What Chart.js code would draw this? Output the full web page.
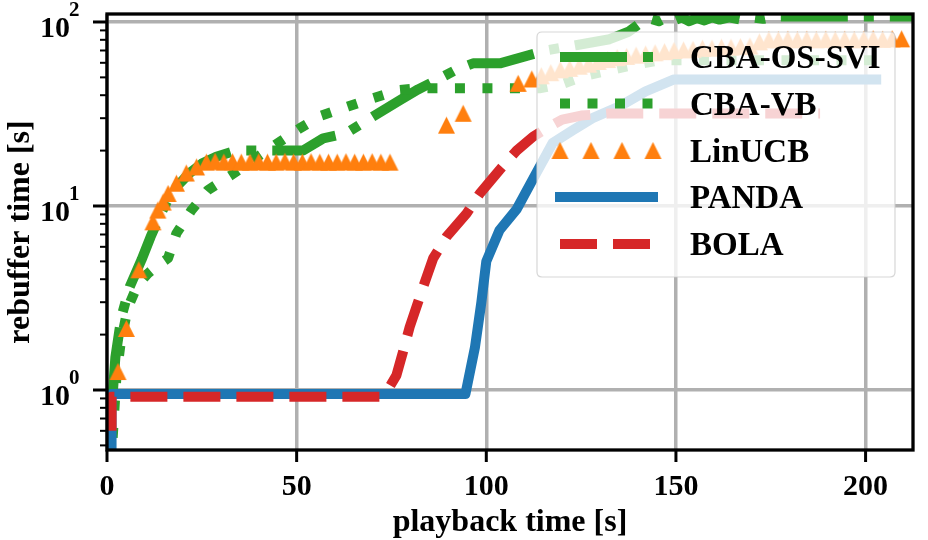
<!DOCTYPE html>
<html><head><meta charset="utf-8">
<script src="https://cdn.jsdelivr.net/npm/chart.js@4.4.1/dist/chart.umd.min.js"></script>
<style>html,body{margin:0;padding:0;background:#fff;}canvas{display:block;}</style>
</head><body>
<canvas id="c" width="928" height="540"></canvas>
<script>
// ---------- data ----------
const xTicks = [0, 50, 100, 150, 200];
const yTicks = [1, 10, 100];
const yMinorTicks = [0.5,0.6,0.7,0.8,0.9,2,3,4,5,6,7,8,9,20,30,40,50,60,70,80,90];
const seriesNames = ['CBA-OS-SVI', 'CBA-VB', 'LinUCB', 'PANDA', 'BOLA'];
const xTitle = 'playback time [s]';
const yTitle = 'rebuffer time [s]';

const cbaOsSviX = [1.5, 2.2, 3.8, 6.0, 9.1, 11.5, 13.9, 16.0, 18.3, 21.8, 25.0, 28.8, 34.0, 51.7, 57.0, 63.1, 70.0, 77.2, 82.0, 87.7, 92.0, 96.5, 103.6, 109.7, 115.8, 124.0, 132.5, 137.5, 141.0, 143.5, 145.5, 147.5, 149.5, 151.5, 153.5, 155.5, 157.5, 159.5, 161.5, 164.0, 167.0, 170.0, 173.0, 176.0, 212.5];
const cbaOsSviY = [0.95, 1.5, 2.5, 3.64, 5.1, 6.8, 8.8, 10.8, 12.7, 15.1, 17.0, 18.5, 20.0, 20.0, 23.3, 24.9, 30.5, 37.6, 43.0, 49.3, 55.0, 59.6, 59.6, 64.6, 70.0, 75.0, 80.6, 88.5, 100, 104, 101, 106, 102, 106, 101, 105, 102, 106, 103, 106, 103, 106, 104, 107, 107];

const cbaVbX = [1.5, 2.5, 3.6, 5.5, 8.0, 10.8, 13.0, 16.1, 18.3, 22.3, 26.6, 32.5, 38.0, 44.2, 50.8, 56.5, 63.5, 70.1, 77.2, 82.0, 114.0, 120.0, 126.0, 133.0, 140.0, 146.0, 206.0];
const cbaVbY = [0.55, 1.2, 1.8, 2.8, 3.7, 4.3, 4.7, 5.2, 7.1, 9.5, 12.2, 14.6, 17.5, 21.4, 26.4, 31.0, 34.7, 38.5, 42.7, 43.6, 43.6, 46.0, 51.0, 55.0, 59.0, 62.0, 62.0];

const linUcbX = [2.9, 5.1, 8.4, 12.1, 13.4, 14.8, 16.1, 18.3, 20.9, 23.6, 26.2, 28.5, 30.8, 33.1, 35.4, 37.7, 40.0, 42.3, 44.6, 46.9, 49.2, 51.5, 53.8, 56.1, 58.4, 60.7, 63.0, 65.3, 67.6, 69.9, 72.2, 74.6,
  89.5, 93.9, 108.4, 112.0, 114.5, 117.0, 119.5, 122.0, 124.5, 127.0, 129.5, 132.0, 134.5, 137.0, 139.5, 142.0, 144.5, 147.0, 149.5, 152.0, 154.5, 157.0, 159.5, 162.0, 164.5, 167.0, 169.5, 172.0, 174.5, 177.0, 179.5, 182.0, 184.5, 187.0, 189.5, 192.0, 194.5, 197.0, 199.5, 202.0, 204.5, 207.0, 209.5];
const linUcbY = [1.26, 2.16, 4.5, 8.2, 9.5, 10.5, 11.7, 13.3, 15.1, 16.3, 17.3, 17.5, 17.3, 17.4, 17.3, 17.3, 17.4, 17.3, 17.3, 17.5, 17.3, 17.3, 17.4, 17.3, 17.3, 17.3, 17.4, 17.3, 17.3, 17.4, 17.3, 17.3,
  27.5, 31.9, 46.4, 49.0, 51.0, 53.0, 55.0, 56.0, 57.5, 59.0, 61.0, 62.5, 64.0, 65.0, 66.0, 67.0, 68.0, 69.0, 70.0, 70.5, 71.0, 72.0, 72.0, 73.0, 73.0, 73.5, 74.0, 78.0, 80.0, 80.0, 80.5, 80.0, 80.5, 80.0, 80.5, 80.0, 80.5, 80.0, 80.5, 81.0, 80.5, 81.0, 81.0];

const pandaX = [1.2, 1.2, 94.5, 97.0, 98.7, 100.0, 103.5, 108.0, 112.3, 117.5, 122.9, 128.0, 135.0, 142.0, 149.5, 202.8];
const pandaY = [0.47, 0.95, 0.95, 1.7, 3.0, 5.0, 7.4, 9.6, 14.0, 22.0, 25.9, 30.0, 34.7, 42.0, 48.7, 48.7];

const bolaX = [1.2, 1.2, 71.9, 74.0, 76.3, 78.0, 79.8, 83.3, 86.0, 89.5, 94.8, 98.3, 103.5, 108.0, 112.3, 116.0, 120.0, 125.0, 132.0, 188.0];
const bolaY = [0.6, 0.92, 0.92, 1.0, 1.2, 1.6, 2.2, 3.6, 5.2, 6.8, 9.1, 11.7, 15.7, 20.0, 23.8, 26.5, 29.5, 31.0, 31.8, 31.8];

// ---------- styles ----------
const C_BLUE = '#1f77b4', C_ORANGE = '#ff7f0e', C_GREEN = '#2ca02c', C_RED = '#d62728';
const SERIF = '"Liberation Serif", "Times New Roman", serif';
const LW = 10;
const DASH_DASHDOT = [67, 16, 10, 16];
const DASH_DOT = [10, 17.5];
const DASH_DASH = [37, 16];

function makeTri(size, color) {
  const c = document.createElement('canvas');
  c.width = size + 2; c.height = size + 2;
  const g = c.getContext('2d');
  g.fillStyle = color;
  g.beginPath();
  g.moveTo(1 + size / 2, 1);
  g.lineTo(1, 1 + size);
  g.lineTo(1 + size, 1 + size);
  g.closePath();
  g.fill();
  return c;
}
const triImg = makeTri(17, C_ORANGE);

const pts = (xs, ys) => xs.map((x, i) => ({ x: x, y: ys[i] }));

const lineDs = (label, xs, ys, color, dash, cap) => ({
  label, data: pts(xs, ys), borderColor: color, backgroundColor: color,
  borderWidth: LW, borderDash: dash, borderCapStyle: cap, borderJoinStyle: 'round',
  pointRadius: 0, pointHoverRadius: 0, tension: 0, fill: false, clip: 0
});

const datasets = [
  lineDs(seriesNames[4], bolaX, bolaY, C_RED, DASH_DASH, 'butt'),
  lineDs(seriesNames[3], pandaX, pandaY, C_BLUE, [], 'square'),
  { label: seriesNames[2], data: pts(linUcbX, linUcbY), showLine: false,
    pointStyle: triImg, pointRadius: 9, pointHoverRadius: 9,
    borderColor: C_ORANGE, backgroundColor: C_ORANGE, clip: 0 },
  lineDs(seriesNames[1], cbaVbX, cbaVbY, C_GREEN, DASH_DOT, 'butt'),
  lineDs(seriesNames[0], cbaOsSviX, cbaOsSviY, C_GREEN, DASH_DASHDOT, 'butt'),
];

// ---------- decoration plugin ----------
const deco = {
  id: 'deco',
  afterDatasetsDraw(chart) {
    const ctx = chart.ctx, a = chart.chartArea, xs = chart.scales.x, ys = chart.scales.y;
    const ln = (x1, y1, x2, y2) => { ctx.beginPath(); ctx.moveTo(x1, y1); ctx.lineTo(x2, y2); ctx.stroke(); };
    ctx.save();
    ctx.setLineDash([]);
    // frame
    ctx.strokeStyle = '#000'; ctx.lineWidth = 3.3; ctx.lineCap = 'butt';
    ctx.strokeRect(a.left, a.top, a.right - a.left, a.bottom - a.top);
    // ticks
    ctx.lineWidth = 3;
    xTicks.forEach(v => { const p = xs.getPixelForValue(v); ln(p, a.bottom, p, a.bottom + 12); });
    yTicks.forEach(v => { const p = ys.getPixelForValue(v); ln(a.left - 14, p, a.left, p); });
    ctx.lineWidth = 2;
    yMinorTicks.forEach(v => { const p = ys.getPixelForValue(v); ln(a.left - 7, p, a.left, p); });
    // tick labels
    ctx.fillStyle = '#000';
    ctx.font = 'bold 30px ' + SERIF;
    ctx.textAlign = 'center'; ctx.textBaseline = 'alphabetic';
    xTicks.forEach(v => ctx.fillText(String(v), xs.getPixelForValue(v), a.bottom + 45));
    yTicks.forEach(v => {
      const p = ys.getPixelForValue(v);
      const e = Math.round(Math.log10(v));
      ctx.font = 'bold 30px ' + SERIF; ctx.textAlign = 'right';
      ctx.fillText('10', 70, p + 15);
      ctx.font = 'bold 21px ' + SERIF; ctx.textAlign = 'left';
      ctx.fillText(String(e), 69, p - 6);
    });
    // axis titles
    ctx.font = 'bold 32px ' + SERIF; ctx.textAlign = 'center';
    ctx.fillText(xTitle, (a.left + a.right) / 2, 531);
    ctx.save();
    ctx.translate(29, (a.top + a.bottom) / 2);
    ctx.rotate(-Math.PI / 2);
    ctx.fillText(yTitle, 0, 0);
    ctx.restore();
    // legend
    const L = 537, T = 32, R = 895, B = 277, rad = 5;
    ctx.beginPath();
    ctx.moveTo(L + rad, T); ctx.lineTo(R - rad, T); ctx.quadraticCurveTo(R, T, R, T + rad);
    ctx.lineTo(R, B - rad); ctx.quadraticCurveTo(R, B, R - rad, B);
    ctx.lineTo(L + rad, B); ctx.quadraticCurveTo(L, B, L, B - rad);
    ctx.lineTo(L, T + rad); ctx.quadraticCurveTo(L, T, L + rad, T);
    ctx.closePath();
    ctx.fillStyle = 'rgba(255,255,255,0.8)'; ctx.fill();
    ctx.strokeStyle = 'rgba(204,204,204,0.8)'; ctx.lineWidth = 1.2; ctx.stroke();
    const rows = [57, 103.5, 150.5, 197, 244];
    const hx0 = 560, hx1 = 653;
    const styles = [
      { c: C_GREEN, d: DASH_DASHDOT, cap: 'butt' },
      { c: C_GREEN, d: DASH_DOT, cap: 'butt' },
      null,
      { c: C_BLUE, d: [], cap: 'square' },
      { c: C_RED, d: DASH_DASH, cap: 'butt' },
    ];
    styles.forEach((s, i) => {
      const y = rows[i];
      if (s) {
        ctx.strokeStyle = s.c; ctx.lineWidth = LW; ctx.lineCap = s.cap;
        ctx.setLineDash(s.d); ctx.lineDashOffset = 0;
        ln(hx0, y, hx1, y);
        ctx.setLineDash([]);
      } else {
        [560, 591, 622, 653].forEach(x => ctx.drawImage(triImg, x - triImg.width / 2, y - triImg.height / 2));
      }
      ctx.fillStyle = '#000';
      ctx.font = 'bold 33px ' + SERIF; ctx.textAlign = 'left'; ctx.textBaseline = 'alphabetic';
      ctx.fillText(seriesNames[i], 690, y + 11);
    });
    ctx.restore();
  }
};

new Chart(document.getElementById('c'), {
  type: 'line',
  data: { datasets },
  options: {
    responsive: false, animation: false, devicePixelRatio: 1,
    layout: { padding: { left: 107, top: 14, right: 15, bottom: 90 } },
    plugins: { legend: { display: false }, tooltip: { enabled: false } },
    events: [],
    scales: {
      x: {
        type: 'linear', min: 0, max: 212.5,
        afterBuildTicks: s => { s.ticks = xTicks.map(v => ({ value: v })); },
        afterFit: s => { s.height = 0; },
        ticks: { display: false },
        grid: { color: '#b0b0b0', lineWidth: 3.5, drawTicks: false },
        border: { display: false }
      },
      y: {
        type: 'logarithmic', min: 0.472, max: 110.5,
        afterBuildTicks: s => { s.ticks = yTicks.map(v => ({ value: v })); },
        afterFit: s => { s.width = 0; },
        ticks: { display: false },
        grid: { color: '#b0b0b0', lineWidth: 3.5, drawTicks: false },
        border: { display: false }
      }
    }
  },
  plugins: [deco]
});
</script>
</body></html>
